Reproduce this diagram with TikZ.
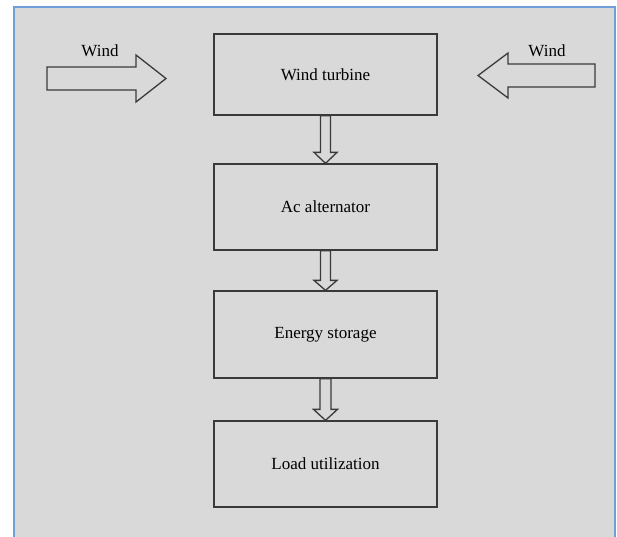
\documentclass[tikz,border=0pt]{standalone}
\usepackage{fontspec}
\setmainfont{Liberation Serif}
\usetikzlibrary{calc,positioning}
\usepackage{xcolor}
\definecolor{panel}{HTML}{D9D9D9}
\definecolor{frameblue}{HTML}{6F9FD8}
\definecolor{ink}{HTML}{3A3A3A}
\tikzset{
  stage/.style={draw=ink, line width=1.3pt, fill=panel, minimum width=223pt, minimum height=86pt, inner sep=0pt, font=\fontsize{17}{20}\selectfont},
  hollow/.style={draw=ink, line width=1.3pt, fill=panel, line join=miter},
  windlabel/.style={inner sep=0pt, font=\fontsize{17}{20}\selectfont}
}
% hollow block arrow: start, end, shaft half width, head half width, head length
\newcommand{\hollowarrow}[5]{%
  \coordinate (ha-base) at ($(#2)!#5!(#1)$);
  \draw[hollow] ($(#1)!#3!90:(#2)$) -- ($(ha-base)!#3!-90:(#1)$) -- ($(ha-base)!#4!-90:(#1)$)
    -- (#2) -- ($(ha-base)!#4!90:(#1)$) -- ($(ha-base)!#3!90:(#1)$) -- ($(#1)!#3!-90:(#2)$) -- cycle;}

\begin{document}
\begin{tikzpicture}[x=1pt, y=-1pt]
  \clip (0,0) rectangle (617,536);
  \fill[white] (0,0) rectangle (617,536);
  \draw[frameblue, line width=2pt, fill=panel] (14,7) rectangle (615,560);

  % stages of the chain
  \node[stage, minimum height=81pt] (turbine) at (325.5,74.5) {Wind turbine};
  \node[stage] (alternator) at (325.5,207) {Ac alternator};
  \node[stage, minimum height=87pt] (storage) at (325.5,334.5) {Energy storage};
  \node[stage] (load) at (325.5,464) {Load utilization};

  % arrows down the chain
  \hollowarrow{turbine.south}{alternator.north}{5pt}{11.5pt}{11pt}
  \hollowarrow{alternator.south}{storage.north}{5pt}{11.5pt}{10pt}
  \hollowarrow{storage.south}{load.north}{5.5pt}{12pt}{11pt}

  % wind coming in from both sides
  \coordinate (windL) at (47,78.5);
  \coordinate (windLtip) at (166,78.5);
  \hollowarrow{windL}{windLtip}{11.5pt}{23.5pt}{30pt}
  \node[windlabel] (windLtext) at (100,51) {Wind};

  \coordinate (windR) at (595,75.5);
  \coordinate (windRtip) at (478,75.5);
  \hollowarrow{windR}{windRtip}{11.5pt}{22.5pt}{30pt}
  \node[windlabel] (windRtext) at (547,51) {Wind};
\end{tikzpicture}
\end{document}
